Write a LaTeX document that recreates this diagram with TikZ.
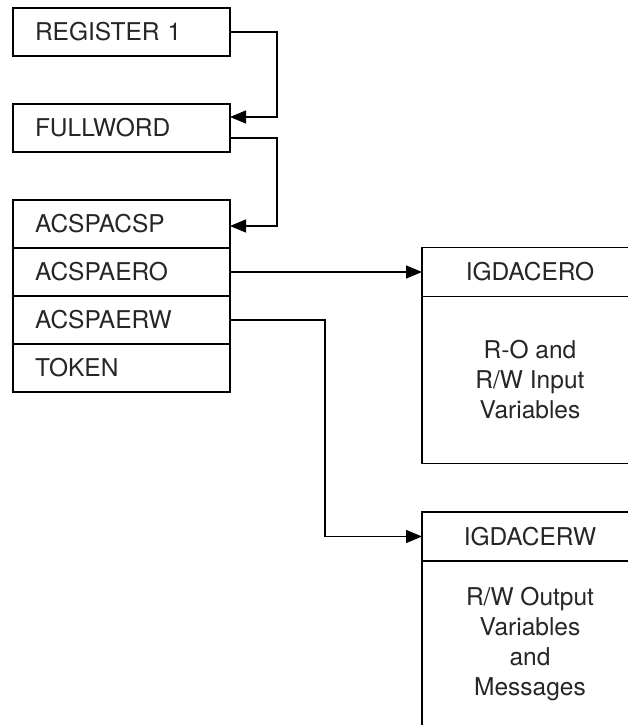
\documentclass[tikz,border=0pt]{standalone}
\usepackage{fontspec}
\setmainfont{TeX Gyre Heros}
\usetikzlibrary{arrows.meta,positioning}

\begin{document}
\begin{tikzpicture}[x=1pt,y=-1pt,
    field/.style={draw, line width=1.3pt, minimum height=48pt, text width=173pt,
        inner xsep=22pt, inner ysep=0pt, outer sep=0pt, align=left, text=black!85,
        font=\fontsize{24.5}{28}\selectfont},
    header/.style={draw, line width=1.3pt, minimum width=216pt, minimum height=49pt,
        inner sep=0pt, outer sep=0pt, text=black!85, font=\fontsize{24.5}{28}\selectfont},
    body/.style={draw, line width=1.3pt, minimum width=216pt, minimum height=167pt,
        inner sep=0pt, outer sep=0pt, align=center, text=black!85,
        font=\fontsize{24.5}{30}\selectfont},
    link/.style={line width=1.3pt, -{Triangle[length=16pt,width=13pt]}}]
    \clip (0,0) rectangle (628,725);

    % Pointer chain
    \node[field] (reg) at (121.5,32) {REGISTER 1};
    \node[field] (full) at (121.5,128) {FULLWORD};

    % Parameter list
    \node[field] (acsp) at (121.5,224) {ACSPACSP};
    \node[field, below=0pt of acsp] (aero) {ACSPAERO};
    \node[field, below=0pt of aero] (aerw) {ACSPAERW};
    \node[field, below=0pt of aerw] (token) {TOKEN};

    % Input area
    \node[header] (ero) at (530,272) {IGDACERO};
    \node[body, below=0pt of ero] (erobody) {R-O and\\R/W Input\\Variables};

    % Output area
    \node[header] (erw) at (530,536.5) {IGDACERW};
    \node[body, below=0pt of erw] (erwbody) {R/W Output\\Variables\\and\\Messages};

    % Connectors
    \draw[link] (reg.east) -- ++(47,0) |- ([yshift=11pt]full.east);
    \draw[link] ([yshift=-10pt]full.east) -- ++(47,0) |- ([yshift=-2pt]acsp.east);
    \draw[link] (aero.east) -- (aero.east -| ero.west);
    \draw[link] (aerw.east) -- ++(95,0) |- (erw.west);
\end{tikzpicture}
\end{document}
